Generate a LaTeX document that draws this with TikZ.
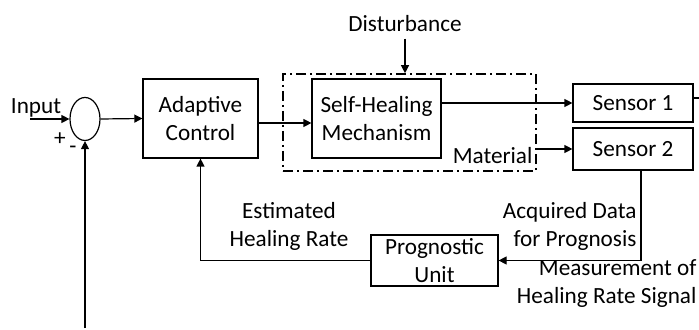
\documentclass[tikz,border=0pt]{standalone}
\usepackage{fontspec}
\setmainfont{Carlito}
\usetikzlibrary{arrows.meta,calc,shapes.geometric}
\begin{document}
\begin{tikzpicture}[x=0.5pt,y=-0.5pt,
  line width=0.6pt,
  font=\fontsize{11.6pt}{14pt}\selectfont,
  blk/.style={draw,rectangle,inner sep=0pt,align=center},
  lbl/.style={inner sep=0pt,align=center},
  arr/.style={-{Triangle[length=4pt,width=4pt]}},
  matbox/.style={draw,line width=0.8pt,dash pattern=on 5pt off 2pt on 1pt off 2pt}]
\useasboundingbox (0,0) rectangle (699,330);
% blocks
\node[draw,ellipse,minimum width=15pt,minimum height=21.5pt,inner sep=0pt] (sum) at (85,119) {};
\node[blk,minimum width=57.5pt,minimum height=39.5pt] (ac) at (200.5,118.5) {Adaptive\\Control};
\node[matbox,rectangle,minimum width=126.5pt,minimum height=48.5pt,inner sep=0pt] (mat) at (409.5,122.5) {};
\node[blk,minimum width=64.5pt,minimum height=39.5pt] (shm) at (376.5,118.5) {Self-Healing\\Mechanism};
\node[blk,minimum width=60pt,minimum height=19pt] (s1) at (633,103) {Sensor 1};
\node[blk,minimum width=60pt,minimum height=21pt] (s2) at (633,149) {Sensor 2};
\node[blk,minimum width=63.5pt,minimum height=25.5pt] (pu) at (434.5,260.5) {Prognostic\\Unit};
% labels
\node[lbl] (inp) at (36,108) {Input};
\node[lbl] (plus) at (60,139) {+};
\node[lbl] (minus) at (73,150) {-};
\node[lbl] (dist) at (405,24) {Disturbance};
\node[lbl,anchor=east] (mtxt) at (533,156) {Material};
\node[lbl] (est) at (289,226) {Estimated\\Healing Rate};
\node[lbl,anchor=east,align=right] (acq) at (637,226) {Acquired Data\\for Prognosis};
\node[lbl,anchor=east,align=right] (meas) at (697,284) {Measurement of\\Healing Rate Signal};
% coordinates
\coordinate (instart) at (30,119);
\coordinate (fbbot) at (85,328);
\coordinate (s1out) at (699,98);
% connectors
\draw[arr] (instart) -- (sum.west);
\draw[arr] (sum.east) -- (ac.west);
\draw[arr] ($(ac.east)+(0,4.5)$) -- ($(shm.west)+(0,4.5)$);
\draw[arr] (dist.south) ++(0,6) -- (dist.south |- mat.north);
\draw[arr] (shm.east |- s1.west) -- (s1.west);
\draw[arr] (mat.east |- s2.west) -- (s2.west);
\draw ($(s1.east)+(0,-5)$) -- (s1out);
\draw[arr] ($(s2.south)+(8,0)$) |- (pu.east);
\draw[arr] (pu.west) -| (ac.south);
\draw[arr] (fbbot) -- (sum.south);
\end{tikzpicture}
\end{document}
